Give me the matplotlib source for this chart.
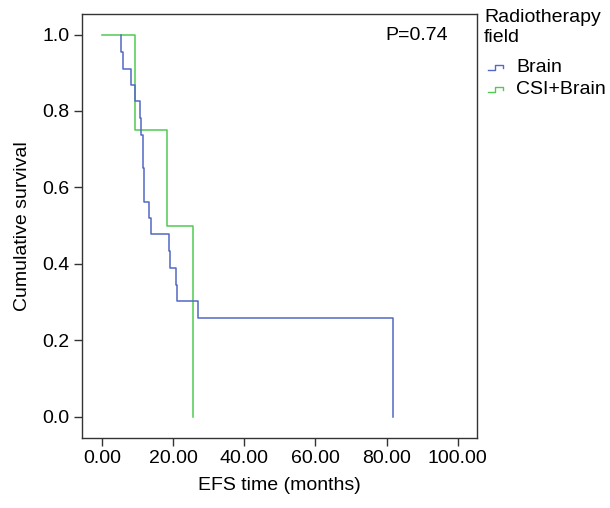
import matplotlib
matplotlib.use("Agg")
import matplotlib.pyplot as plt
from matplotlib.lines import Line2D

plt.rcParams['font.family'] = ['Liberation Sans', 'DejaVu Sans']

# Kaplan-Meier step data (months, cumulative survival)
# first entry is where the curve starts at 1.0, the rest are event times
brain_t = [5.3, 5.3, 5.8, 8.1, 9.2, 10.6, 10.9, 11.5, 11.6, 11.8, 11.9,
           13.2, 13.8, 18.9, 19.2, 20.8, 21.0, 27.1, 81.7]
brain_s = [1.0, 0.955, 0.911, 0.869, 0.825, 0.781, 0.738, 0.694, 0.650,
           0.606, 0.562, 0.519, 0.477, 0.433, 0.389, 0.345, 0.302, 0.258, 0.0]

csi_t = [0.0, 9.2, 18.3, 25.5]
csi_s = [1.0, 0.75, 0.5, 0.0]

groups = ['Brain', 'CSI+Brain']
colors = ['#5468c4', '#4fcc4f']
p_text = 'P=0.74'

x_ticks = [0, 20, 40, 60, 80, 100]
y_ticks = [0.0, 0.2, 0.4, 0.6, 0.8, 1.0]

FS = 14

fig = plt.figure(figsize=(6.1, 5.08), dpi=100)
ax = fig.add_axes([0.1344, 0.1384, 0.6481, 0.8335])

ax.step(csi_t, csi_s, where='post', color=colors[1], lw=1.1)
ax.step(brain_t, brain_s, where='post', color=colors[0], lw=1.1)

ax.set_xlim(-5.6, 105.5)
ax.set_ylim(-0.055, 1.053)
ax.set_xticks(x_ticks)
ax.set_xticklabels(['%.2f' % v for v in x_ticks])
ax.set_yticks(y_ticks)
ax.set_yticklabels(['%.1f' % v for v in y_ticks])
ax.tick_params(direction='out', length=6, width=1, color='#333333',
               labelsize=FS, pad=3)
for sp in ax.spines.values():
    sp.set_color('#333333')
    sp.set_linewidth(1)

ax.set_xlabel('EFS time (months)', fontsize=FS, labelpad=7)
ax.set_ylabel('Cumulative survival', fontsize=FS, labelpad=8)

fig.text(416.7 / 610, 1 - 36 / 508, p_text, fontsize=FS, ha='center', va='center')

# legend drawn by hand to get the SPSS-like step icons
fig.text(484 / 610, 1 - 17 / 508, 'Radiotherapy', fontsize=FS, ha='left', va='center')
fig.text(484 / 610, 1 - 38 / 508, 'field', fontsize=FS, ha='left', va='center')
for i, (name, c) in enumerate(zip(groups, colors)):
    yc = 67 + 22 * i
    xs = [488, 495, 495, 503, 503]
    ys = [yc + 3, yc + 3, yc - 2, yc - 2, yc + 1]
    fig.add_artist(Line2D([x / 610 for x in xs], [1 - y / 508 for y in ys],
                          color=c, lw=1.0, transform=fig.transFigure))
    fig.text(516 / 610, 1 - yc / 508, name, fontsize=FS, ha='left', va='center')

fig.savefig('out.png', dpi=100, facecolor='white')
